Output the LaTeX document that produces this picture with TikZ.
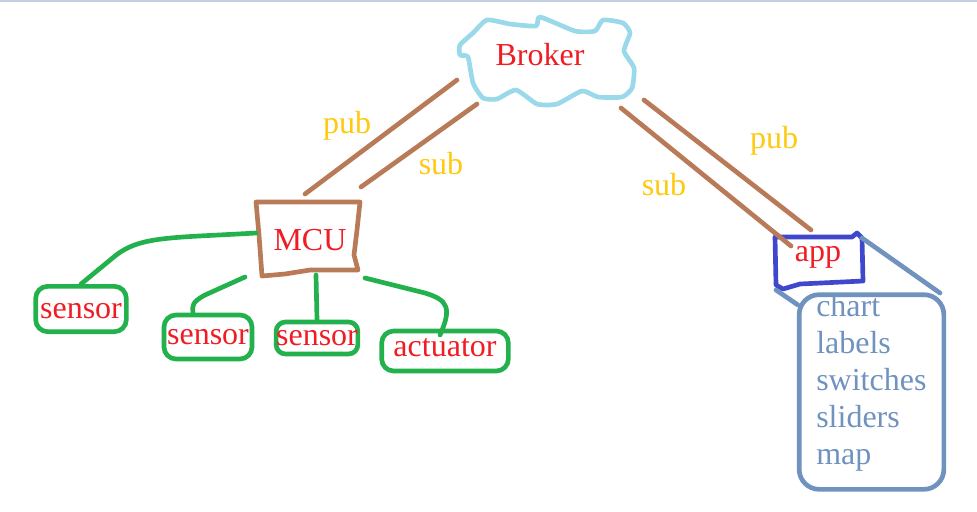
\documentclass[tikz,border=0pt]{standalone}
\usepackage{fontspec}
\setmainfont{Liberation Serif}
\usepackage{tikz}
\definecolor{paintred}{HTML}{F01C24}
\definecolor{paintbrown}{HTML}{B97A57}
\definecolor{paintgreen}{HTML}{22B14C}
\definecolor{paintsky}{HTML}{99D9EA}
\definecolor{paintblue}{HTML}{3F48CC}
\definecolor{paintsteel}{HTML}{7092BE}
\definecolor{paintyellow}{HTML}{FFC90E}
\definecolor{topline}{HTML}{C4CFE0}
\def\brokerpiece{(487,20) (510,24) (536,26) (540,17) (575,31) (595,31) (603,20) (623,23) (630,33) (624,51) (634,68) (632,88) (622,97) (598,97) (582,91) (557,104) (537,104) (516,90) (497,99) (483,98) (473,83) (468,57) (460,55) (460,45) (473,33)}
\def\mcupiece{(256,202) -- (360,202) -- (357,230) -- (354,255) -- (358,270) -- (310,270) -- (285,274) -- (262,276) -- (259,235) -- cycle}
\def\apppiece{(775,237) -- (852,237) -- (857,233) -- (862,238) -- (863,281) -- (800,284) -- (783,289) -- (776,285) -- cycle}
\tikzset{
    every node/.style={font=\fontsize{24}{27.75}\selectfont, text=paintred, inner sep=0pt},
    handline/.style={line width=3.5pt, line join=round, line cap=round},
    wire/.style={handline, paintbrown},
    lead/.style={handline, paintgreen},
    devicebox/.style={draw=paintgreen, line width=3.5pt, rounded corners=9pt},
    topic/.style={text=paintyellow},
}
\begin{document}
\begin{tikzpicture}[x=0.75pt,y=-0.75pt]
    \useasboundingbox (0,0) rectangle (977,511);
    \fill[topline] (0,0) rectangle (977,1.5);
    % broker
    \draw[handline, paintsky] plot[smooth cycle, tension=0.35] coordinates {\brokerpiece};
    \node (broker) at (540,55) {Broker};
    % mcu side
    \draw[handline, paintbrown] \mcupiece;
    \node (mcu) at (310,240) {MCU};
    \node[devicebox, minimum width=68pt, minimum height=34pt, text height=14pt] (sensorA) at (81,309) {sensor};
    \node[devicebox, minimum width=66pt, minimum height=33pt] (sensorB) at (208,337) {sensor};
    \node[devicebox, minimum width=60pt, minimum height=24pt, rounded corners=7pt] (sensorC) at (317,338) {sensor};
    \node[devicebox, minimum width=95pt, minimum height=30pt, text depth=6pt] (actuator) at (445,351) {actuator};
    \coordinate (mcuA) at (256,233);
    \coordinate (mcuB) at (245,277);
    \coordinate (mcuC) at (316,275);
    \coordinate (mcuD) at (365,278);
    \draw[lead] (mcuA) .. controls (170,238) and (140,236) .. (115,256) -- (sensorA.north);
    \draw[lead] (mcuB) -- (205,295) .. controls (192,302) and (192,306) .. (sensorB.north -| 193,0);
    \draw[lead] (mcuC) -- (sensorC.north);
    \draw[lead] (mcuD) -- (425,293) .. controls (448,300) and (452,308) .. (440,335);
    % app side
    \draw[handline, paintblue] \apppiece;
    \node (app) at (818,257) {app};
    \node[draw=paintsteel, line width=3.5pt, rounded corners=15pt, minimum width=108.5pt, minimum height=146pt] (panel) at (871.5,392) {};
    \node[anchor=north west, align=left, text=paintsteel] (widgets) at (816,294) {chart\\labels\\switches\\sliders\\map};
    \coordinate (appR) at (862,238);
    \coordinate (appL) at (776,290);
    \coordinate (panelR) at (940,293);
    \coordinate (panelL) at (798,305);
    \draw[handline, paintsteel] (appR) -- (panelR);
    \draw[handline, paintsteel] (appL) -- (panelL);
    % pub and sub
    \coordinate (brokerA) at (457,80);
    \coordinate (brokerB) at (477,104);
    \coordinate (brokerC) at (621,108);
    \coordinate (brokerD) at (644,100);
    \coordinate (mcuE) at (305,194);
    \coordinate (mcuF) at (361,187);
    \coordinate (appA) at (791,246);
    \coordinate (appB) at (811,230);
    \draw[wire] (brokerA) -- (mcuE);
    \draw[wire] (brokerB) -- (mcuF);
    \draw[wire] (brokerC) -- (appA);
    \draw[wire] (brokerD) -- (appB);
    \node[topic] (pubA) at (347,126) {pub};
    \node[topic] (subA) at (441,164) {sub};
    \node[topic] (subB) at (664,185) {sub};
    \node[topic] (pubB) at (774,141) {pub};
\end{tikzpicture}
\end{document}
